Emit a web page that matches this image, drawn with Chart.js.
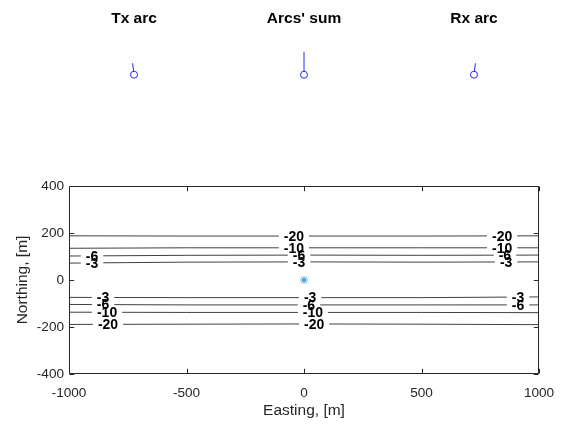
<!DOCTYPE html>
<html>
<head>
<meta charset="utf-8">
<script src="https://cdn.jsdelivr.net/npm/chart.js@4/dist/chart.umd.min.js"></script>
<style>
html,body{margin:0;padding:0;background:#fff;}
#wrap{position:relative;width:563px;height:424px;overflow:hidden;}
canvas{position:absolute;}
</style>
</head>
<body>
<div id="wrap">
<canvas id="main" width="563" height="424" style="left:0;top:0;"></canvas>
<canvas id="tx" width="120" height="115" style="left:74px;top:0;"></canvas>
<canvas id="sum" width="120" height="115" style="left:244px;top:0;"></canvas>
<canvas id="rx" width="120" height="115" style="left:414px;top:0;"></canvas>
</div>
<script>
// ---------- data ----------
const phasorTitles = ["Tx arc", "Arcs' sum", "Rx arc"];
const txArc = [-0.15, 1.27];
const rxArc = [0.15, 1.27];
const arcsSum = [0.0, 2.54];

const xTicks = [-1000, -500, 0, 500, 1000];
const yTicks = [-400, -200, 0, 200, 400];

const eastingSamples = [-1000, -500, 0, 500, 1000];
const contourLevels = [-20, -10, -6, -3, -3, -6, -10, -20];
const contourNorthings = [
  [188, 187, 187, 187, 188],
  [135, 137, 137, 137, 137],
  [102, 105, 106, 105, 106],
  [72, 76, 77, 76, 77],
  [-74, -75, -75, -75, -72],
  [-104, -106, -106, -106, -106],
  [-137, -138, -138, -138, -139],
  [-189, -188, -187, -188, -190]
];
const labelEastings = [
  [-43, 843],
  [-43, 843],
  [-902, -21, 855],
  [-902, -21, 860],
  [-855, 26, 911],
  [-855, 21, 911],
  [-838, 38],
  [-834, 43]
];
const sourcePoint = [0, 0];

// ---------- setup ----------
Chart.defaults.font.family = "'Liberation Sans', Arial, sans-serif";
Chart.defaults.animation = false;

function interpY(xs, ys, x) {
  for (let i = 0; i < xs.length - 1; i++) {
    if (x >= xs[i] && x <= xs[i + 1]) {
      const t = (x - xs[i]) / (xs[i + 1] - xs[i]);
      return ys[i] + t * (ys[i + 1] - ys[i]);
    }
  }
  return ys[ys.length - 1];
}

const axisColor = '#262626';

const boxTicksPlugin = {
  id: 'boxTicks',
  afterDraw(chart) {
    const ctx = chart.ctx;
    const a = chart.chartArea;
    const xs = chart.scales.x, ys = chart.scales.y;
    const L = Math.round(a.left) + 0.5, R = Math.round(a.right) - 0.5;
    const T = Math.round(a.top) + 0.5, B = Math.round(a.bottom) - 0.5;
    const tl = 4.7;
    ctx.save();
    ctx.strokeStyle = axisColor;
    ctx.lineWidth = 1;
    ctx.beginPath();
    ctx.rect(L, T, R - L, B - T);
    xTicks.forEach(v => {
      const px = Math.round(xs.getPixelForValue(v)) + 0.5;
      ctx.moveTo(px, B); ctx.lineTo(px, B - tl);
      ctx.moveTo(px, T); ctx.lineTo(px, T + tl);
    });
    yTicks.forEach(v => {
      const py = Math.round(ys.getPixelForValue(v)) + 0.5;
      ctx.moveTo(L, py); ctx.lineTo(L + tl, py);
      ctx.moveTo(R, py); ctx.lineTo(R - tl, py);
    });
    ctx.stroke();
    ctx.restore();
  }
};

const contourLabelPlugin = {
  id: 'contourLabels',
  afterDatasetsDraw(chart) {
    const ctx = chart.ctx;
    const xs = chart.scales.x, ys = chart.scales.y;
    ctx.save();
    ctx.font = "bold 14px 'Liberation Sans', Arial, sans-serif";
    const items = [];
    contourLevels.forEach((lev, i) => {
      labelEastings[i].forEach(e => {
        const n = interpY(eastingSamples, contourNorthings[i], e);
        const px = xs.getPixelForValue(e), py = ys.getPixelForValue(n);
        const txt = String(lev);
        const w = ctx.measureText(txt).width;
        items.push({px, py, txt, w});
      });
    });
    ctx.fillStyle = '#fff';
    items.forEach(it => {
      ctx.fillRect(it.px - it.w / 2 - 5, it.py - 3, it.w + 10, 6);
    });
    ctx.fillStyle = '#000';
    ctx.textAlign = 'center';
    ctx.textBaseline = 'middle';
    items.forEach(it => ctx.fillText(it.txt, it.px, it.py + 1));
    ctx.restore();
  }
};

const contourDatasets = contourLevels.map((lev, i) => ({
  label: 'level ' + lev,
  data: eastingSamples.map((e, j) => ({x: e, y: contourNorthings[i][j]})),
  showLine: true,
  borderColor: '#404040',
  borderWidth: 1,
  pointRadius: 0,
  tension: 0,
  fill: false,
  order: 2
}));

new Chart(document.getElementById('main'), {
  type: 'scatter',
  data: {
    datasets: contourDatasets.concat([{
      label: 'source',
      data: [{x: sourcePoint[0], y: sourcePoint[1]}],
      pointStyle: 'star',
      pointRadius: 4,
      borderColor: '#2a8fdc',
      borderWidth: 1,
      backgroundColor: '#2a8fdc',
      showLine: false,
      order: 1
    }])
  },
  options: {
    responsive: false,
    devicePixelRatio: 1,
    layout: {padding: {top: 186, right: 24, left: 0, bottom: 0}},
    plugins: {legend: {display: false}, tooltip: {enabled: false}},
    scales: {
      x: {
        type: 'linear', min: -1000, max: 1000,
        afterBuildTicks: s => { s.ticks = xTicks.map(v => ({value: v})); },
        afterFit: s => { s.height = 50; s.paddingLeft = 0; s.paddingRight = 0; },
        grid: {display: false, drawTicks: false},
        border: {display: false},
        ticks: {color: axisColor, font: {size: 13.6}, padding: 11, maxRotation: 0, callback: v => String(v)},
        title: {display: true, text: 'Easting, [m]', color: axisColor, font: {size: 15.5}, padding: {top: 0, bottom: 4}}
      },
      y: {
        type: 'linear', min: -400, max: 400,
        afterBuildTicks: s => { s.ticks = yTicks.map(v => ({value: v})); },
        afterFit: s => { s.width = 69; s.paddingTop = 0; s.paddingBottom = 0; },
        grid: {display: false, drawTicks: false},
        border: {display: false},
        ticks: {color: axisColor, font: {size: 13.6}, padding: 5, callback: v => String(v)},
        title: {display: true, text: 'Northing, [m]', color: axisColor, font: {size: 15.5}, padding: {top: 13, bottom: 0}}
      }
    }
  },
  plugins: [contourLabelPlugin, boxTicksPlugin]
});

function phasorChart(id, title, vec) {
  new Chart(document.getElementById(id), {
    type: 'scatter',
    data: {
      datasets: [
        {
          data: [{x: 0, y: 0}, {x: vec[0], y: vec[1]}],
          showLine: true, borderColor: 'rgb(40,40,255)', borderWidth: 1,
          pointRadius: 0, order: 2
        },
        {
          data: [{x: 0, y: 0}],
          pointStyle: 'circle', pointRadius: 3.5,
          borderColor: 'rgb(40,40,255)', backgroundColor: '#fff', borderWidth: 1,
          order: 1
        }
      ]
    },
    options: {
      responsive: false,
      devicePixelRatio: 1,
      layout: {padding: 0},
      plugins: {
        legend: {display: false}, tooltip: {enabled: false},
        title: {display: true, text: title, color: '#000', font: {size: 15.5, weight: 'bold'}, padding: {top: 9, bottom: 10}}
      },
      scales: {
        x: {display: false, min: -6, max: 6},
        y: {display: false, min: -3.9, max: 4.1}
      }
    }
  });
}
phasorChart('tx', phasorTitles[0], txArc);
phasorChart('sum', phasorTitles[1], arcsSum);
phasorChart('rx', phasorTitles[2], rxArc);
</script>
</body>
</html>
